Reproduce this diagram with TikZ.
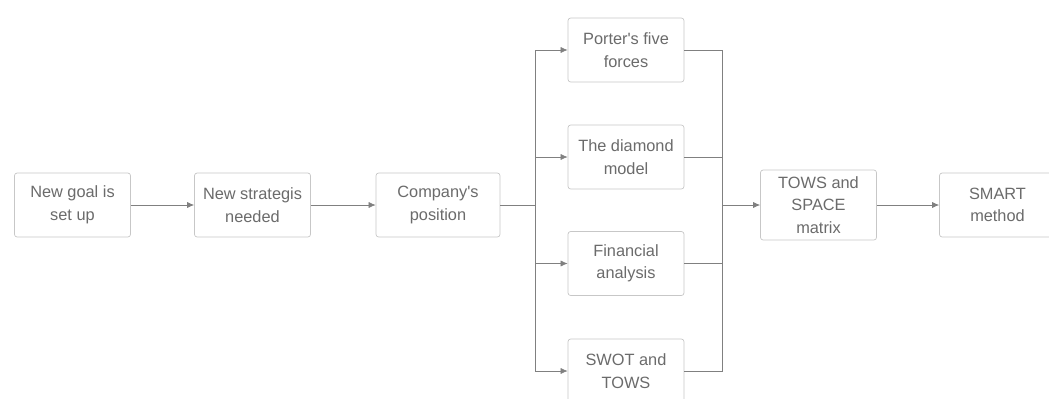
\documentclass[tikz,border=0pt]{standalone}
\usepackage{fontspec}
\setmainfont{Liberation Sans}
\usetikzlibrary{arrows.meta,positioning}

\begin{document}
\begin{tikzpicture}
[stepbox/.style={rectangle,rounded corners=1.5pt,draw=black!22,fill=white,thin,align=center,
  minimum width=2.32cm,minimum height=1.28cm,inner sep=1pt,text=black!58,font=\fontsize{9.3}{12.8}\selectfont},
 link/.style={draw=black!50,thin},
 flow/.style={link,-{Latex[length=4pt,width=3.5pt]}}]
\useasboundingbox (0,0) rectangle (20.98,-7.96);

\node[stepbox] (goal) at (1.45,-4.1) {New goal is\\set up};
\node[stepbox] (strat) at (5.05,-4.1) {New strategis\\needed};
\node[stepbox,minimum width=2.48cm] (pos) at (8.76,-4.1) {Company\textquotesingle s\\position};

\node[stepbox] (porter) at (12.52,-1.0) {Porter\textquotesingle s five\\forces};
\node[stepbox] (diamond) at (12.52,-3.14) {The diamond\\model};
\node[stepbox] (finance) at (12.52,-5.27) {Financial\\analysis};
\node[stepbox] (swot) at (12.52,-7.42) {SWOT and\\TOWS};

\node[stepbox,minimum height=1.4cm] (tows) at (16.37,-4.1) {TOWS and\\SPACE\\matrix};
\node[stepbox] (smart) at (19.95,-4.1) {SMART\\method};

\coordinate (split) at (10.7,-4.1);
\coordinate (join) at (14.44,-4.1);

\draw [flow] (goal) -- (strat);
\draw [flow] (strat) -- (pos);
\draw [link] (pos) -- (split);
\draw [flow] (split) |- (porter);
\draw [flow] (split) |- (diamond);
\draw [flow] (split) |- (finance);
\draw [flow] (split) |- (swot);
\draw [link] (porter) -| (join);
\draw [link] (diamond) -| (join);
\draw [link] (finance) -| (join);
\draw [link] (swot) -| (join);
\draw [flow] (join) -- (tows);
\draw [flow] (tows) -- (smart);
\end{tikzpicture}
\end{document}
